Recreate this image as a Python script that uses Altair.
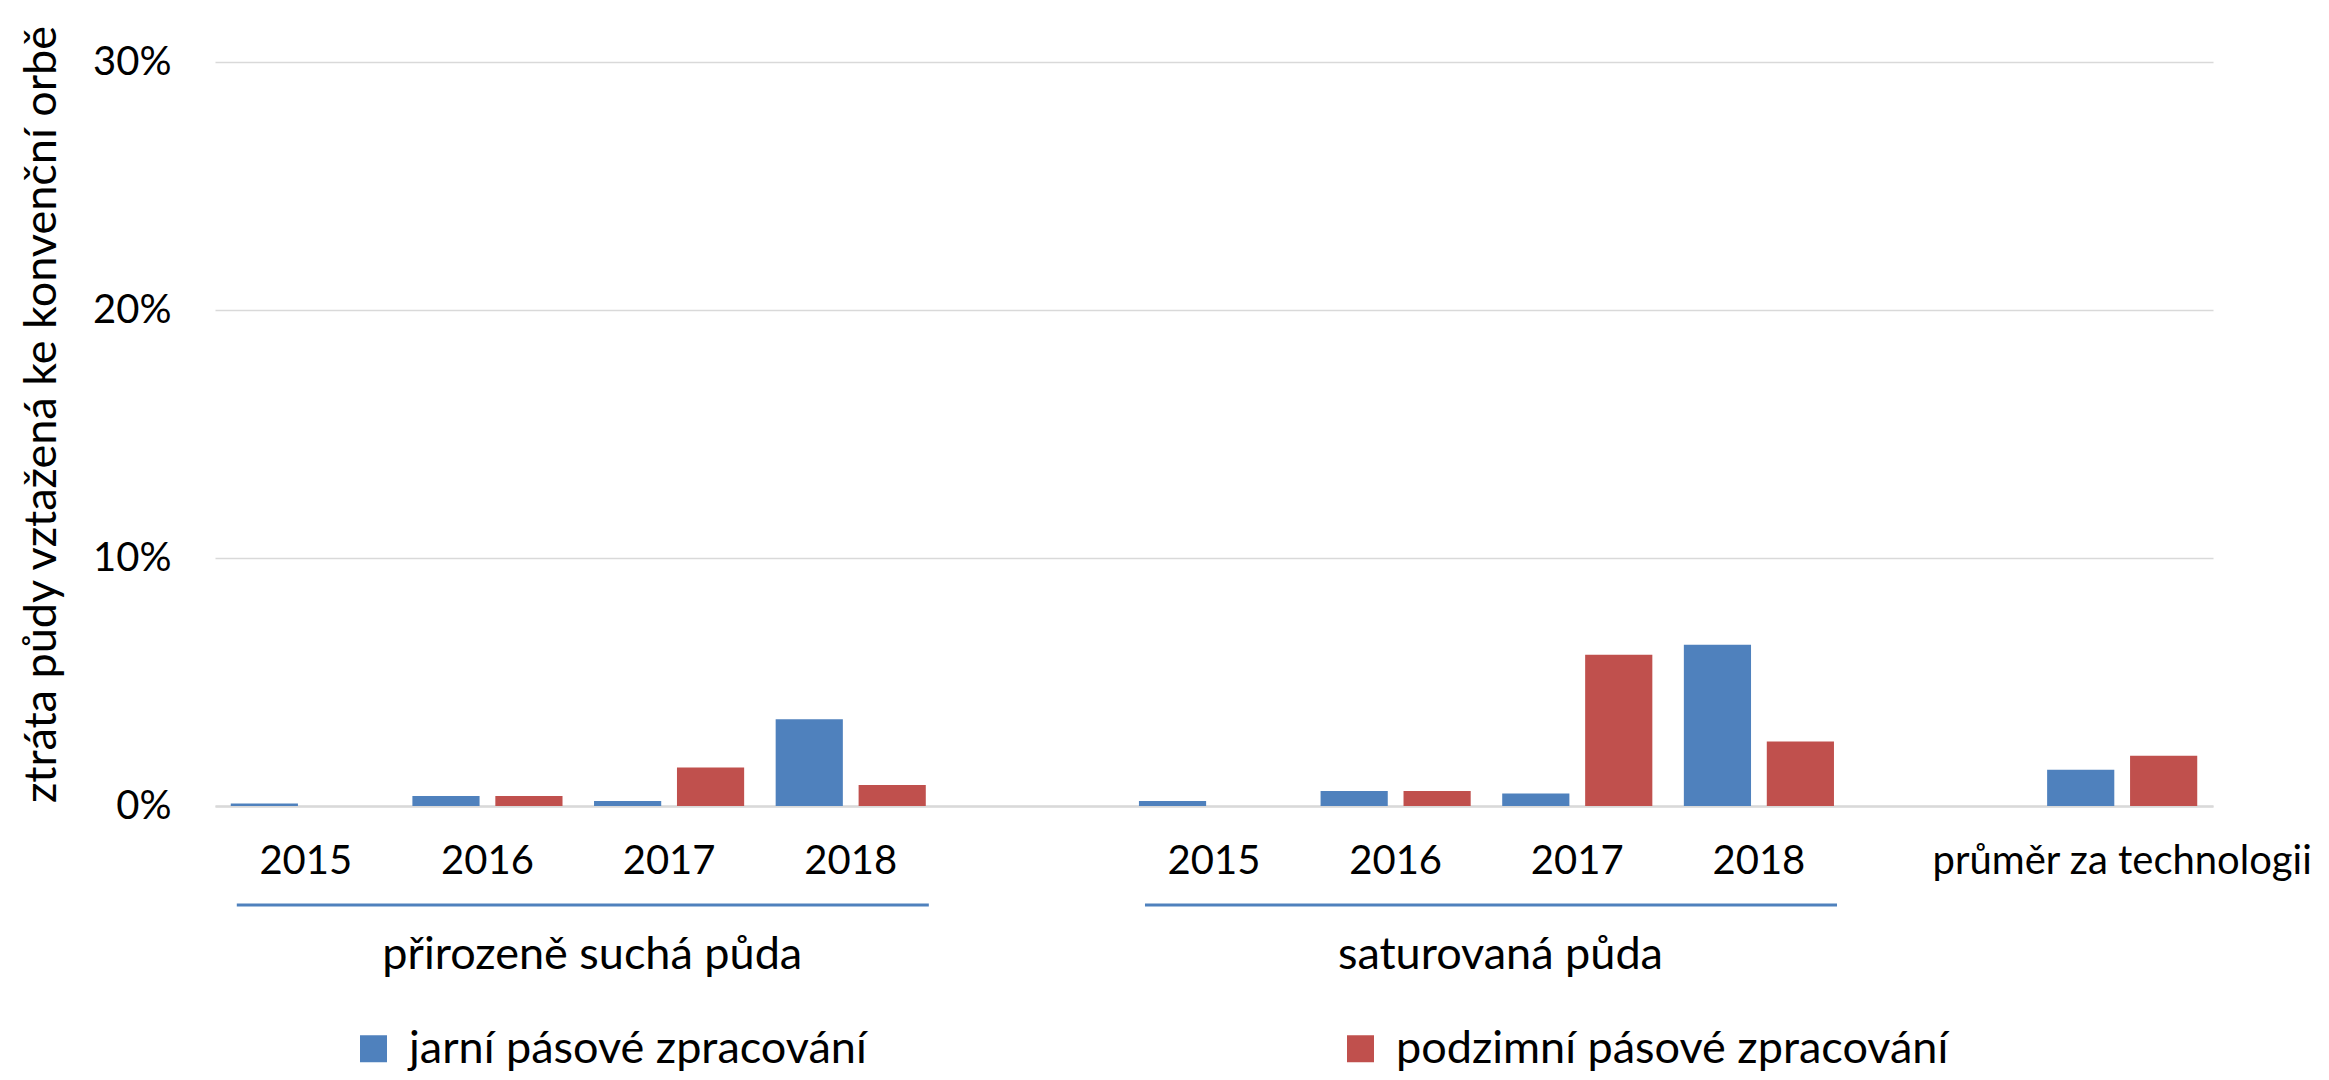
import json
import altair as alt
import pandas as pd

# ---------------- data ----------------
years = ["2015", "2016", "2017", "2018"]
groups = ["přirozeně suchá půda", "saturovaná půda"]
avg_label = "průměr za technologii"
series = ["jarní pásové zpracování", "podzimní pásové zpracování"]
colors = ["#4F81BD", "#C0504D"]

jarni_sucha = [0.001, 0.004, 0.002, 0.035]
podzimni_sucha = [0.0, 0.004, 0.0155, 0.0085]
jarni_sat = [0.002, 0.006, 0.005, 0.065]
podzimni_sat = [0.0, 0.006, 0.061, 0.026]
jarni_avg = [0.0146]
podzimni_avg = [0.0203]

y_ticks = [0.0, 0.1, 0.2, 0.3]

# slot keys on the category axis (empty slots separate the groups)
slots_a = ["A" + y for y in years]
slots_b = ["B" + y for y in years]
slots = slots_a + ["gapA"] + slots_b + ["gapB"] + ["avg"]
slot_labels = years + [""] + years + [""] + [avg_label]
label_map = dict(zip(slots, slot_labels))

rows = []
for s, v1, v2 in zip(slots_a, jarni_sucha, podzimni_sucha):
    rows.append({"slot": s, "series": series[0], "value": v1})
    rows.append({"slot": s, "series": series[1], "value": v2})
for s, v1, v2 in zip(slots_b, jarni_sat, podzimni_sat):
    rows.append({"slot": s, "series": series[0], "value": v1})
    rows.append({"slot": s, "series": series[1], "value": v2})
rows.append({"slot": "avg", "series": series[0], "value": jarni_avg[0]})
rows.append({"slot": "avg", "series": series[1], "value": podzimni_avg[0]})
bar_df = pd.DataFrame(rows)

group_df = pd.DataFrame({
    "name": groups,
    "start": [slots_a[0], slots_b[0]],
    "end": [slots_a[-1], slots_b[-1]],
    "mid": [slots_a[2], slots_b[2]],
})

FONT = "Lato"
FS = 40
FS_BIG = 45

xscale = alt.Scale(domain=slots, paddingInner=0, paddingOuter=0)
xaxis = alt.Axis(
    title=None,
    labelExpr=json.dumps(label_map, ensure_ascii=False) + "[datum.value]",
    labelAngle=0,
    labelFont=FONT,
    labelFontSize=FS,
    labelColor="#000000",
    labelPadding=35,
    labelLimit=1000,
    ticks=False,
    domain=True,
    domainColor="#D9D9D9",
    domainWidth=2.5,
    grid=False,
)

yaxis = alt.Axis(
    values=y_ticks,
    format=".0%",
    labelFont=FONT,
    labelFontSize=FS,
    labelColor="#000000",
    labelPadding=44,
    ticks=False,
    domain=False,
    grid=True,
    gridColor="#D9D9D9",
    gridWidth=1.5,
    title="ztráta půdy vztažená ke konvenční orbě",
    titleFont=FONT,
    titleFontSize=45,
    titleFontWeight="normal",
    titleColor="#000000",
    titleX=-174,
    titleY=352,
    titleBaseline="middle",
)

bars = alt.Chart(bar_df).mark_bar().encode(
    x=alt.X("slot:N", scale=xscale, axis=xaxis),
    xOffset=alt.XOffset("series:N", scale=alt.Scale(domain=series, paddingInner=0.19, paddingOuter=0.19)),
    y=alt.Y("value:Q", scale=alt.Scale(domain=[0, 0.3], nice=False), axis=yaxis),
    color=alt.Color(
        "series:N",
        scale=alt.Scale(domain=series, range=colors),
        legend=alt.Legend(
            orient="none",
            legendX=136,
            legendY=964,
            direction="horizontal",
            title=None,
            symbolType="square",
            symbolSize=729,
            symbolStrokeWidth=0,
            labelFont=FONT,
            labelFontSize=FS_BIG,
            labelColor="#000000",
            labelOffset=13,
            labelLimit=1000,
            columnPadding=471,
            padding=0,
        ),
    ),
)

rules = alt.Chart(group_df).mark_rule(color="#4F81BD", strokeWidth=3).encode(
    x=alt.X("start:N", bandPosition=0.12, scale=xscale, axis=xaxis),
    x2=alt.X2("end", bandPosition=0.93),
    y=alt.value(843),
)

texts = alt.Chart(group_df).mark_text(
    font=FONT, fontSize=FS_BIG, color="#000000", align="center", baseline="middle", dx=14
).encode(
    x=alt.X("mid:N", bandPosition=0, scale=xscale, axis=xaxis),
    y=alt.value(893),
    text="name:N",
)

chart = alt.layer(bars, rules, texts).properties(
    width=1998,
    height=744,
    padding={"left": 207, "top": 54, "right": 108, "bottom": 266},
    autosize=alt.AutoSizeParams(type="none"),
    background="white",
).configure_view(stroke=None)

chart.save("out.html", embed_options={"renderer": "svg", "actions": False})
